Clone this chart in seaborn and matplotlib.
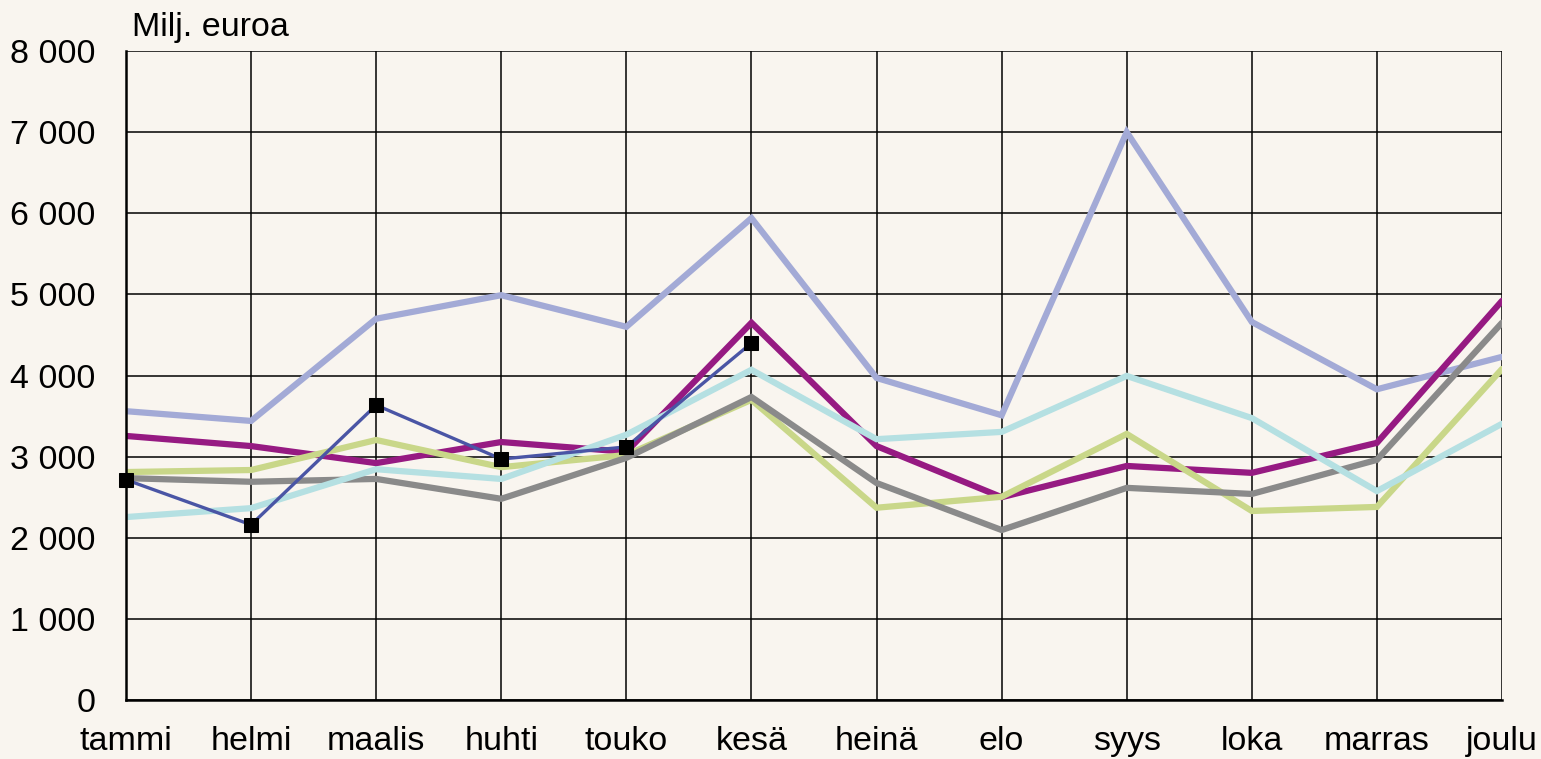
import matplotlib
matplotlib.use("Agg")
import matplotlib.pyplot as plt
import seaborn as sns
import pandas as pd

months = ["tammi", "helmi", "maalis", "huhti", "touko", "kesä",
          "heinä", "elo", "syys", "loka", "marras", "joulu"]

# monthly values, milj. euroa
s_lavender = [3560, 3440, 4700, 4990, 4600, 5940, 3970, 3510, 7000, 4660, 3830, 4230]
s_purple = [3255, 3130, 2920, 3180, 3060, 4650, 3130, 2500, 2885, 2800, 3170, 4920]
s_green = [2810, 2835, 3205, 2870, 3020, 3700, 2370, 2505, 3280, 2330, 2380, 4080]
s_gray = [2735, 2690, 2725, 2480, 2985, 3735, 2675, 2095, 2615, 2540, 2960, 4650]
s_cyan = [2255, 2365, 2845, 2725, 3270, 4070, 3215, 3305, 3995, 3475, 2575, 3405]
s_blue = [2715, 2160, 3635, 2970, 3120, 4400]

bg = "#F9F5EF"
sns.set_theme(style="white", rc={"axes.facecolor": bg, "figure.facecolor": bg})
plt.rcParams["font.family"] = ["Liberation Sans", "DejaVu Sans"]

fig = plt.figure(figsize=(15.41, 7.59), dpi=100)
ax = fig.add_axes([126 / 1541, 59 / 759, 1376 / 1541, 649 / 759])

series = [
    (s_lavender, "#A3AAD6"),
    (s_purple, "#961A82"),
    (s_green, "#C9D789"),
    (s_gray, "#8A8A8A"),
    (s_cyan, "#B5E0E2"),
]
for vals, col in series:
    df = pd.DataFrame({"x": range(len(vals)), "y": vals})
    sns.lineplot(data=df, x="x", y="y", ax=ax, color=col, linewidth=4.5,
                 solid_joinstyle="miter")

dfb = pd.DataFrame({"x": range(len(s_blue)), "y": s_blue})
sns.lineplot(data=dfb, x="x", y="y", ax=ax, color="#4A55A5", linewidth=2.4,
             marker="s", markersize=10, markerfacecolor="black",
             markeredgecolor="black", clip_on=False, zorder=5)

ax.set_xlim(0, 11)
ax.set_ylim(0, 8000)
ax.set_xticks(range(12))
ax.set_xticklabels(months)
ax.set_yticks(range(0, 8001, 1000))
ax.set_yticklabels([f"{v:,}".replace(",", " ") for v in range(0, 8001, 1000)])
ax.set_xlabel("")
ax.set_ylabel("")
ax.grid(True, color="black", linewidth=1.1)
ax.set_axisbelow(True)
ax.tick_params(axis="both", length=0, labelsize=24.5, colors="black")
ax.tick_params(axis="y", pad=22)
ax.tick_params(axis="x", pad=19)
for side in ["top", "right"]:
    ax.spines[side].set_visible(False)
for side in ["left", "bottom"]:
    ax.spines[side].set_color("black")
    ax.spines[side].set_linewidth(1.8)

fig.text(132 / 1541, (759 - 36) / 759, "Milj. euroa", fontsize=24.5,
         ha="left", va="baseline", color="black")

fig.savefig("out.png", dpi=100, facecolor=bg)
